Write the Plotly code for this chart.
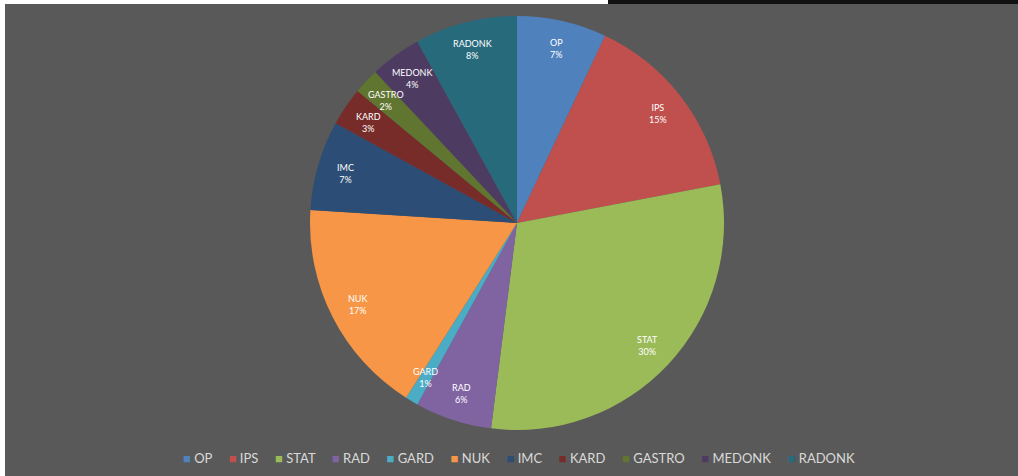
import math
import plotly.graph_objects as go

# Share of cases per department (percent)
labels = ["OP", "IPS", "STAT", "RAD", "GARD", "NUK", "IMC", "KARD", "GASTRO", "MEDONK", "RADONK"]
values = [7, 15, 30, 6, 1, 17, 7, 3, 2, 4, 8]
colors = ["#4F81BD", "#C0504D", "#9BBB59", "#8064A2", "#4BACC6", "#F79646",
          "#2C4D75", "#772C2A", "#5F7530", "#4D3B62", "#276A7C"]

W, H = 1018, 476
BG = "#595959"

# pie placement in pixels
cx, cy, R = 517, 223, 207
dom_x = [(cx - R) / W, (cx + R) / W]
dom_y = [1 - (cy + R) / H, 1 - (cy - R) / H]

fig = go.Figure(go.Pie(
    labels=labels,
    values=values,
    marker=dict(colors=colors, line=dict(width=0)),
    sort=False,
    direction="clockwise",
    rotation=0,
    textinfo="none",
    hoverinfo="label+percent",
    showlegend=False,
    domain=dict(x=dom_x, y=dom_y),
))

# slice labels: name and rounded share, placed along each slice's mid-angle
total = sum(values)
annotations = []
cum = 0.0
for lab, v in zip(labels, values):
    mid = (cum + v / 2) / total * 2 * math.pi
    cum += v
    r = 0.865 * R
    px = cx + r * math.sin(mid)
    py = cy - r * math.cos(mid)
    annotations.append(dict(
        x=px / W, y=1 - py / H, xref="paper", yref="paper",
        text=f"{lab}<br>{round(v / total * 100)}%",
        showarrow=False, xanchor="center", yanchor="middle",
        font=dict(family="Lato, Open Sans, sans-serif", size=9, color="#ffffff"),
        align="center",
    ))

# legend row along the bottom
gap = "\u00a0" * 5
items = [f'<span style="font-size:13px;fill:{c}">\u25A0</span>\u00a0{lab}'
         for lab, c in zip(labels, colors)]
annotations.append(dict(
    x=(cx + 2) / W, y=1 - 458 / H, xref="paper", yref="paper",
    text=gap.join(items), showarrow=False,
    xanchor="center", yanchor="middle",
    font=dict(family="Lato, Open Sans, sans-serif", size=13, color="#d9d9d9"),
))

shapes = [
    dict(type="rect", xref="paper", yref="paper", x0=0, x1=5 / W, y0=0, y1=1,
         fillcolor="#ffffff", line=dict(width=0)),
    dict(type="rect", xref="paper", yref="paper", x0=0, x1=608 / W, y0=1 - 4 / H, y1=1,
         fillcolor="#ffffff", line=dict(width=0)),
    dict(type="rect", xref="paper", yref="paper", x0=608 / W, x1=1, y0=1 - 4 / H, y1=1,
         fillcolor="#111111", line=dict(width=0)),
]

fig.update_layout(
    width=W, height=H,
    margin=dict(l=0, r=0, t=0, b=0),
    paper_bgcolor=BG, plot_bgcolor=BG,
    annotations=annotations,
    shapes=shapes,
)

fig.write_html(
    "out.html",
    post_script=(
        f"document.documentElement.style.background='{BG}';"
        f"document.body.style.background='{BG}';"
        "document.documentElement.style.overflow='hidden';"
        "document.body.style.overflow='hidden';"
    ),
)
